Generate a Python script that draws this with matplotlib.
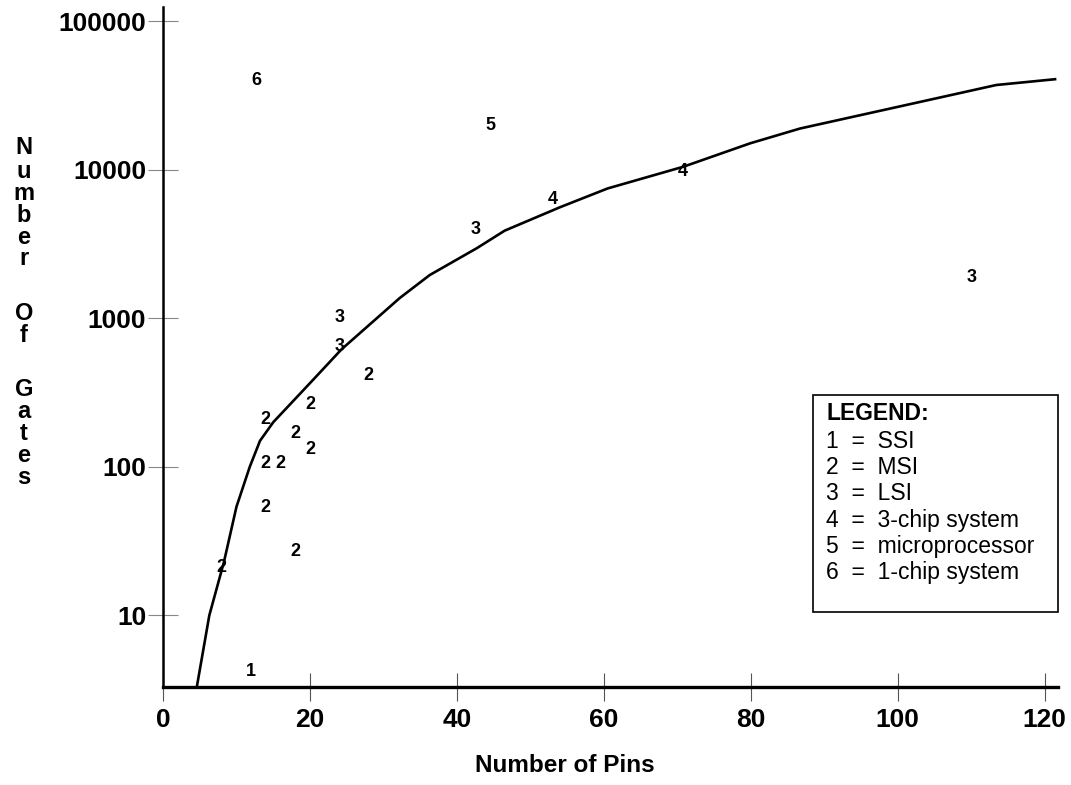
import matplotlib
matplotlib.use('Agg')
import matplotlib.pyplot as plt
from matplotlib.patches import Rectangle
from matplotlib.ticker import NullLocator, FixedLocator

plt.rcParams['font.family'] = ['Liberation Sans', 'DejaVu Sans']

# ---- data ----
ssi_x = [12]
ssi_y = [4.2]
msi_x = [8, 14, 14, 14, 16, 18, 18, 20, 20, 28]
msi_y = [21, 53, 105, 209, 105, 27, 167, 131, 263, 410]
lsi_x = [24, 24, 42.5, 110]
lsi_y = [650, 1020, 4000, 1900]
chip3_x = [53, 70.7]
chip3_y = [6300, 9800]
micro_x = [44.5]
micro_y = [20000]
chip1_x = [12.7]
chip1_y = [40000]

curve_x = [4.6, 6.3, 8.3, 10.0, 11.8, 13.2, 15.0, 20.4, 24.3, 32.2, 36.3,
           42.7, 46.5, 54.0, 60.5, 70.8, 79.9, 86.7, 101.2, 113.4, 121.4]
curve_y = [3.3, 10, 23, 54, 100, 150, 200, 385, 620, 1370, 1960,
           2970, 3900, 5600, 7500, 10500, 15100, 19000, 27400, 37300, 40800]

x_ticks = [0, 20, 40, 60, 80, 100, 120]
y_ticks = [10, 100, 1000, 10000, 100000]
y_tick_labels = ['10', '100', '1000', '10000', '100000']

legend_lines = ['1  =  SSI', '2  =  MSI', '3  =  LSI', '4  =  3-chip system',
                '5  =  microprocessor', '6  =  1-chip system']

W, H = 1071, 785
fig = plt.figure(figsize=(W / 100, H / 100), dpi=100)
ax = fig.add_axes([163 / W, 1 - 687 / H, (1058 - 163) / W, (687 - 7) / H])
ax.set_yscale('log')
ax.set_xlim(0, 121.8)
ax.set_ylim(3.3, 125000)

ax.plot(curve_x, curve_y, color='black', lw=1.9, solid_joinstyle='round')

groups = [(ssi_x, ssi_y, '1'), (msi_x, msi_y, '2'), (lsi_x, lsi_y, '3'),
          (chip3_x, chip3_y, '4'), (micro_x, micro_y, '5'), (chip1_x, chip1_y, '6')]
for xs, ys, lab in groups:
    for x, y in zip(xs, ys):
        ax.text(x, y, lab, ha='center', va='center', fontsize=13,
                fontweight='bold', color='black')

for s in ['top', 'right']:
    ax.spines[s].set_visible(False)
ax.spines['left'].set_linewidth(1.8)
ax.spines['bottom'].set_linewidth(2.4)

ax.xaxis.set_major_locator(FixedLocator(x_ticks))
ax.set_xticklabels([str(v) for v in x_ticks])
ax.yaxis.set_major_locator(FixedLocator(y_ticks))
ax.set_yticklabels(y_tick_labels)
ax.yaxis.set_minor_locator(NullLocator())
ax.tick_params(axis='x', direction='inout', length=20, width=0.8, color='#555555',
               pad=5, labelsize=19)
ax.tick_params(axis='y', direction='inout', length=22, width=0.8, color='#888888',
               pad=1, labelsize=19)
for lab in ax.get_xticklabels() + ax.get_yticklabels():
    lab.set_fontweight('bold')

fig.text(565 / W, 1 - 765 / H, 'Number of Pins', ha='center', va='center',
         fontsize=17.5, fontweight='bold')

# vertical stacked y-label
letters = ['N', 'u', 'm', 'b', 'e', 'r', 'O', 'f', 'G', 'a', 't', 'e', 's']
letter_py = [148, 171, 193, 215, 237, 259, 313, 335, 390, 412, 434, 456, 478]
for ch, py in zip(letters, letter_py):
    fig.text(24 / W, 1 - py / H, ch, ha='center', va='center', fontsize=17,
             fontweight='bold')

# legend box
bx0, by0, bx1, by1 = 813, 395, 1058, 612
fig.patches.append(Rectangle((bx0 / W, 1 - by1 / H), (bx1 - bx0) / W, (by1 - by0) / H,
                             transform=fig.transFigure, fill=True, facecolor='white',
                             edgecolor='black', lw=1.2))
fig.text(826 / W, 1 - 413 / H, 'LEGEND:', ha='left', va='center', fontsize=16.5,
         fontweight='bold')
for i, line in enumerate(legend_lines):
    fig.text(826 / W, 1 - (441 + 26.4 * i) / H, line, ha='left', va='center',
             fontsize=16.5)

fig.savefig('out.png', dpi=100)
